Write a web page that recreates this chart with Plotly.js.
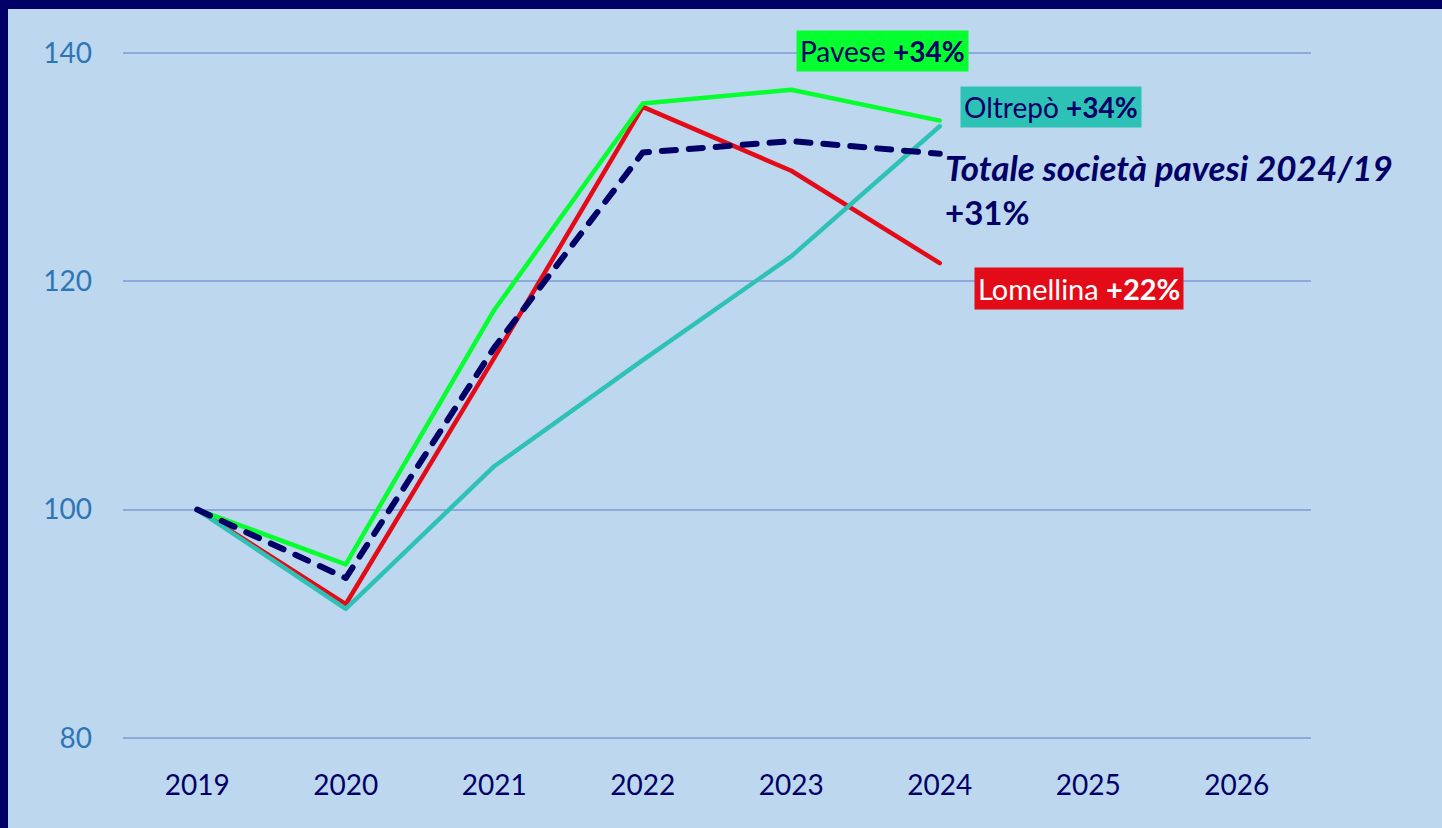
<!DOCTYPE html>
<html>
<head>
<meta charset="utf-8">
<script src="https://cdn.plot.ly/plotly-3.0.1.min.js"></script>
<style>
  html, body { margin: 0; padding: 0; background: #000066; }
  #wrap { position: relative; width: 1442px; height: 828px; background: #000066; overflow: hidden; }
  #chart { position: absolute; left: 8px; top: 9px; width: 1434px; height: 819px; }
  .scatterlayer .js-line { stroke-linecap: round; stroke-linejoin: round; }
</style>
</head>
<body>
<div id="wrap"><div id="chart"></div></div>
<script>
const years = ['2019', '2020', '2021', '2022', '2023', '2024', '2025', '2026'];
const yearsData = ['2019', '2020', '2021', '2022', '2023', '2024'];
const lomellina = [100, 91.7, 113.3, 135.3, 129.7, 121.6];
const oltrepo = [100, 91.3, 103.8, 113.1, 122.2, 133.6];
const pavese = [100, 95.2, 117.5, 135.6, 136.8, 134.1];
const totale = [100, 94.0, 114.2, 131.3, 132.3, 131.2];
const yTicks = [80, 100, 120, 140];

const navy = '#000066';
const FONT = 'Lato, "Open Sans", sans-serif';

// plot area in page pixels (chart div offset 8,9)
const PL = 123, PR = 1311, PT = 51, PB = 740;
const px = v => (v - PL) / (PR - PL);
const py = v => (PB - v) / (PB - PT);

const traces = [
  { x: yearsData, y: lomellina, name: 'Lomellina', mode: 'lines', line: { color: '#e30b17', width: 4.5 } },
  { x: yearsData, y: oltrepo, name: 'Oltrepò', mode: 'lines', line: { color: '#2ec2b6', width: 4.5 } },
  { x: yearsData, y: pavese, name: 'Pavese', mode: 'lines', line: { color: '#05ff2f', width: 4.5 } },
  { x: yearsData, y: totale, name: 'Totale', mode: 'lines', line: { color: navy, width: 6, dash: '14px,13px' } }
];

const layout = {
  width: 1434, height: 819,
  margin: { l: PL - 8, r: 1442 - PR, t: PT - 9, b: 828 - PB },
  paper_bgcolor: '#bdd7ee',
  plot_bgcolor: '#bdd7ee',
  showlegend: false,
  font: { family: FONT },
  xaxis: {
    type: 'category',
    categoryorder: 'array',
    categoryarray: years,
    tickvals: years,
    ticktext: years,
    range: [-0.5, 7.5],
    showgrid: false, zeroline: false, showline: false,
    ticks: '',
    ticklabelstandoff: 26,
    tickfont: { family: FONT, size: 28, color: navy }
  },
  yaxis: {
    range: [79.8, 140.2],
    tickvals: yTicks,
    ticktext: yTicks.map(String),
    showgrid: true, gridcolor: '#8eaadc', gridwidth: 2,
    zeroline: false, showline: false,
    ticks: '',
    ticklabelstandoff: 30,
    tickfont: { family: FONT, size: 28, color: '#2e75b6' }
  },
  annotations: [
    { xref: 'paper', yref: 'paper', x: px(796), y: py(51), xanchor: 'left', yanchor: 'middle', showarrow: false,
      text: 'Pavese <b>+34%</b>', bgcolor: '#05ff2f', borderpad: 3,
      font: { family: FONT, size: 28, color: navy } },
    { xref: 'paper', yref: 'paper', x: px(960), y: py(107), xanchor: 'left', yanchor: 'middle', showarrow: false,
      text: 'Oltrepò <b>+34%</b>', bgcolor: '#2ec2b6', borderpad: 3,
      font: { family: FONT, size: 28, color: navy } },
    { xref: 'paper', yref: 'paper', x: px(943), y: py(167), xanchor: 'left', yanchor: 'middle', showarrow: false,
      text: '<b><i>Totale società pavesi 2024/19</i></b>',
      font: { family: FONT, size: 35, color: navy } },
    { xref: 'paper', yref: 'paper', x: px(943), y: py(212), xanchor: 'left', yanchor: 'middle', showarrow: false,
      text: '<b>+31%</b>',
      font: { family: FONT, size: 33, color: navy } },
    { xref: 'paper', yref: 'paper', x: px(974), y: py(288), xanchor: 'left', yanchor: 'middle', showarrow: false,
      text: 'Lomellina <b>+22%</b>', bgcolor: '#e30b17', borderpad: 3,
      font: { family: FONT, size: 29, color: '#ffffff' } }
  ]
};

Plotly.newPlot('chart', traces, layout, { displayModeBar: false, staticPlot: true });
</script>
</body>
</html>
